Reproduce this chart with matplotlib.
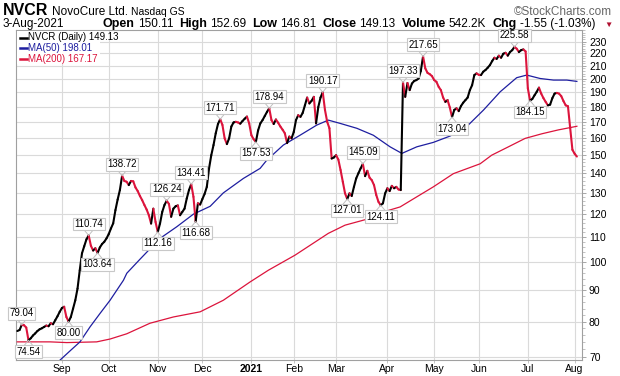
import numpy as np
import pandas as pd
import matplotlib
matplotlib.use("Agg")
import matplotlib.pyplot as plt
from matplotlib.collections import LineCollection
from matplotlib.ticker import FixedLocator, NullFormatter
from matplotlib.lines import Line2D

W, H, DPI = 620, 376, 100
FONT = "Liberation Sans"
plt.rcParams['font.family'] = [FONT, 'DejaVu Sans']

# ---------------- data ----------------
holidays = ["2020-09-07", "2020-11-26", "2020-12-25", "2021-01-01", "2021-01-18",
            "2021-02-15", "2021-04-02", "2021-05-31", "2021-07-05"]
dates = pd.bdate_range("2020-08-04", "2021-08-03")
dates = dates[~dates.isin(pd.to_datetime(holidays))]

close = [
    77.2, 77.5, 79.04, 78.9, 78.2, 74.54, 75.1, 75.9, 76.5, 77.2,
    77.7, 78.0, 78.4, 78.8, 78.6, 79.5, 79.2, 80.4, 81.6, 83.0,
    84.2, 84.6, 81.4, 80.00, 81.4, 84.0, 86.7, 90.6, 97.1, 103.5,
    106.3, 109.1, 110.74, 106.5, 104.6, 105.5, 103.64, 105.8, 107.2, 108.1,
    109.5, 111.3, 113.7, 115.9, 121.8, 126.8, 131.4, 138.72, 136.0, 135.6,
    133.9, 136.0, 135.8, 132.7, 130.9, 128.5, 126.5, 124.2, 122.1, 119.5,
    115.8, 122.5, 116.5, 112.16, 115.8, 121.0, 124.2, 126.24, 124.7, 118.8,
    122.5, 123.6, 124.0, 119.5, 121.0, 122.5, 127.3, 131.4, 134.41, 128.1,
    116.68, 125.0, 124.4, 127.0, 129.5, 133.0, 142.6, 149.9, 155.7, 162.8,
    168.6, 171.71, 168.0, 159.7, 156.3, 159.7, 167.0, 169.6, 170.0, 169.6,
    168.8, 170.5, 172.0, 173.4, 169.0, 161.6, 159.2, 157.53, 164.6, 169.0,
    171.1, 173.8, 176.5, 178.94, 171.1, 168.6, 171.5, 169.4, 167.0, 165.0,
    162.8, 156.9, 160.8, 159.7, 163.6, 171.1, 174.3, 173.2, 175.8, 180.9,
    186.3, 182.2, 184.0, 186.8, 169.0, 179.7, 186.3, 190.17, 177.8, 170.0,
    165.9, 148.0, 148.6, 149.9, 147.4, 141.7, 135.6, 129.8, 127.01, 129.8,
    128.5, 133.0, 137.3, 140.0, 142.6, 145.09, 138.5, 141.3, 137.7, 136.4,
    133.9, 129.0, 125.7, 124.11, 125.0, 129.8, 132.3, 130.9, 133.5, 132.3,
    133.0, 131.7, 131.4, 197.33, 186.8, 196.8, 191.6, 196.4, 198.3, 199.0,
    200.2, 206.0, 217.65, 208.0, 204.5, 203.5, 202.0, 199.0, 197.7, 194.0,
    191.6, 186.3, 183.3, 184.5, 179.5, 173.04, 177.8, 178.9, 177.0, 180.4,
    182.7, 184.5, 186.3, 191.6, 195.2, 202.8, 204.1, 203.0, 202.8, 205.4,
    206.7, 208.5, 210.6, 213.8, 216.5, 215.5, 218.2, 216.5, 219.8, 220.6,
    218.2, 221.2, 222.8, 225.58, 224.0, 221.2, 222.8, 223.4, 221.7, 193.0,
    184.15, 185.3, 187.9, 190.4, 193.4, 189.1, 185.9, 183.3, 180.9, 181.4,
    185.9, 189.1, 189.6, 189.1, 187.3, 183.8, 180.9, 180.3, 166.0, 153.0,
    150.7, 149.13,
]

ma50_idx = [16, 23.6, 28.1, 32.6, 37.1, 41.6, 47.6, 49.1, 55.0, 64.0, 71.5, 79.0, 86.5,
            92.4, 101.4, 108.9, 111.9, 119.3, 126.8, 134.3, 139.5, 144.8, 152.3,
            159.7, 167.2, 172.5, 179.2, 186.6, 194.1, 201.6, 209.1, 216.6, 224.0,
            228.5, 234.5, 240.5, 246.5, 251]
ma50_val = [67.5, 71.6, 74.1, 78.4, 82.5, 86.7, 93.5, 96.0, 101.2, 109.5, 114.4, 120.0,
            123.6, 130.0, 137.3, 142.6, 147.1, 155.7, 161.6, 167.9, 171.1, 169.0,
            165.9, 161.6, 154.7, 150.9, 154.7, 157.3, 161.1, 167.0, 177.7, 190.4,
            200.8, 202.8, 200.2, 199.0, 199.0, 198.01]

ma200_idx = [0, 14.7, 22.2, 35.6, 41.6, 49.1, 59.5, 70, 82, 92.4, 104.4, 112.6, 124.6,
             139.5, 147, 156, 164.2, 171.7, 179.2, 186.6, 195.6, 207.6, 212.8, 220.3,
             227.8, 235.3, 242.7, 251]
ma200_val = [74.1, 74.1, 73.9, 74.1, 74.9, 76.4, 79.5, 81.4, 83.0, 86.7, 92.9, 97.1,
             102.8, 111.6, 115.1, 117.5, 121.0, 123.3, 128.1, 133.0, 139.8, 145.1,
             149.9, 154.7, 159.7, 162.5, 164.9, 167.17]

label_idx = [2, 5, 23, 32, 36, 47, 63, 67, 78, 80, 91, 107, 113, 137, 148, 155,
             163, 173, 182, 195, 223, 230]
label_pos = ["a", "b", "b", "a", "b", "a", "b", "a", "a", "b", "a", "b", "a", "a", "b",
             "a", "b", "a", "a", "b", "a", "b"]

yticks = [70, 80, 90, 100, 110, 120, 130, 140, 150, 160, 170, 180, 190, 200, 210, 220, 230]

RED = "#dc143c"
BLUE = "#1e1ea0"
GRID = "#dadada"

# ---------------- figure ----------------
fig = plt.figure(figsize=(W / DPI, H / DPI), dpi=DPI)
L, R, T, B = 16, 582, 30, 360
ax = fig.add_axes([L / W, 1 - B / H, (R - L) / W, (B - T) / H])
ax.set_yscale("log")
ax.set_ylim(69.2, 240.4)
ax.set_xlim(-0.6, 253.3)

ax.yaxis.set_major_locator(FixedLocator(yticks))
ax.yaxis.set_minor_locator(FixedLocator(list(range(70, 241, 2))))
ax.yaxis.set_minor_formatter(NullFormatter())
ax.yaxis.set_major_formatter(matplotlib.ticker.FuncFormatter(lambda v, p: f"{v:.0f}"))
ax.yaxis.tick_right()
ax.tick_params(axis="y", which="major", length=3, width=0.6, color="#999999",
               labelsize=7.5, pad=2)
ax.tick_params(axis="y", which="minor", length=2, width=0.5, color="#aaaaaa")

x = np.arange(len(close))
d = dates[:len(close)]
mstarts, mlabels = [], []
for i in range(1, len(d)):
    if d[i].month != d[i - 1].month:
        mstarts.append(i)
        mlabels.append("2021" if d[i].month == 1 else d[i].strftime("%b"))
ax.set_xticks(mstarts)
ax.set_xticklabels(mlabels)
ax.tick_params(axis="x", length=2, width=0.6, color="#bbbbbb", labelsize=7.5, pad=1)
for lbl in ax.get_xticklabels():
    if lbl.get_text() == "2021":
        lbl.set_fontweight("bold")

ax.grid(True, which="major", color=GRID, lw=0.8)
ax.set_axisbelow(True)
for s in ax.spines.values():
    s.set_color("#a0a0a0")
    s.set_linewidth(0.8)

# moving averages
ax.plot(ma200_idx, ma200_val, color=RED, lw=0.9, zorder=3)
ax.plot(ma50_idx, ma50_val, color=BLUE, lw=0.9, zorder=3)

# price line colored by direction
c = np.array(close)
pts = np.column_stack([x, c])
segs = np.stack([pts[:-1], pts[1:]], axis=1)
cols = ["#000000" if c[i + 1] >= c[i] else RED for i in range(len(c) - 1)]
lc = LineCollection(segs, colors=cols, linewidths=1.5, zorder=4, capstyle="round",
                    joinstyle="round")
ax.add_collection(lc)

# annotations
for idx, pos in zip(label_idx, label_pos):
    v = close[idx]
    sgn = 1 if pos == "a" else -1
    ax.annotate(f"{v:.2f}", xy=(idx, v), xytext=(0, sgn * 4.6), textcoords="offset points",
                ha="center", va="bottom" if sgn > 0 else "top", fontsize=7,
                bbox=dict(boxstyle="square,pad=0.15", fc="white", ec="#c8c8c8", lw=0.8),
                annotation_clip=False, zorder=6)
    for dx in (-3.0, 3.0):
        ax.annotate("", xy=(idx, v), xytext=(dx, sgn * 3.6), textcoords="offset points",
                    arrowprops=dict(arrowstyle="-", color="#c0c0c0", lw=0.7,
                                    shrinkA=0, shrinkB=0),
                    annotation_clip=False, zorder=5)


def fx(px):
    return px / W


def fy(py):
    return 1 - py / H


# legend (manual)
fig.patches.append(plt.Rectangle((fx(17), fy(64)), (100 - 17) / W, 33 / H,
                                 transform=fig.transFigure, fc="white", ec="none", zorder=5))
leg = [("NVCR (Daily) 149.13", "#000000"),
       ("MA(50) 198.01", BLUE),
       ("MA(200) 167.17", RED)]
for k, (t, col) in enumerate(leg):
    yy = 37.5 + k * 10.5
    fig.add_artist(Line2D([fx(20), fx(27)], [fy(yy), fy(yy)], color=col, lw=1.8,
                          transform=fig.transFigure, zorder=6))
    fig.text(fx(28.5), fy(yy), t, color=col, fontsize=7, va="center", ha="left", zorder=6)

renderer = fig.canvas.get_renderer()

# header line 1
xcur = 3
for t, fs, wt in [("NVCR", 11.5, "bold"), ("NovoCure Ltd.", 8.5, "normal"),
                  ("Nasdaq GS", 7.5, "normal")]:
    tt = fig.text(fx(xcur), fy(15), t, fontsize=fs, fontweight=wt, va="baseline")
    xcur += tt.get_window_extent(renderer).width + 3.5
fig.text(fx(612), fy(15), "\u00a9StockCharts.com", fontsize=8.5, color="#666666",
         va="baseline", ha="right")

# header line 2
fig.text(fx(3), fy(27), "3-Aug-2021", fontsize=8.5, va="baseline")
parts = [("Open", True), ("150.11", False), ("High", True), ("152.69", False),
         ("Low", True), ("146.81", False), ("Close", True), ("149.13", False),
         ("Volume", True), ("542.2K", False), ("Chg", True), ("-1.55 (-1.03%)", False)]
texts = []
xcur = 0
for t, bold in parts:
    tt = fig.text(0, fy(27), t, fontsize=9 if bold else 8.5,
                  fontweight="bold" if bold else "normal", va="baseline")
    w = tt.get_window_extent(renderer).width
    texts.append((tt, xcur))
    xcur += w + (3 if bold else 6)
total = xcur
x0 = 601 - total
for tt, off in texts:
    tt.set_x(fx(x0 + off))
fig.text(fx(604), fy(26.5), "\u25BC", fontsize=6, color="#b01030", va="baseline")

fig.savefig("out.png", dpi=DPI)
